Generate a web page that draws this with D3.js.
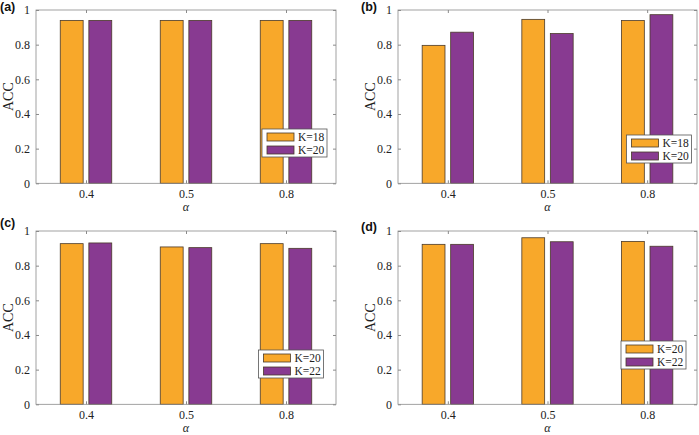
<!DOCTYPE html>
<html>
<head>
<meta charset="utf-8">
<script src="https://cdn.jsdelivr.net/npm/d3@7"></script>
<style>
  html, body { margin: 0; padding: 0; background: #fff; }
  svg { display: block; }
</style>
</head>
<body>
<svg id="chart" width="699" height="435"></svg>
<script>
// ---- data ----
const categories = ["0.4", "0.5", "0.8"];
const yTicks = [0, 0.2, 0.4, 0.6, 0.8, 1];
const yTickLabels = ["0", "0.2", "0.4", "0.6", "0.8", "1"];
const panelLabels = ["(a)", "(b)", "(c)", "(d)"];
const legendAB = ["K=18", "K=20"];
const legendCD = ["K=20", "K=22"];
const a_first = [0.94, 0.94, 0.94];
const a_second = [0.94, 0.94, 0.94];
const b_first = [0.796, 0.946, 0.939];
const b_second = [0.872, 0.864, 0.973];
const c_first = [0.927, 0.908, 0.927];
const c_second = [0.931, 0.904, 0.900];
const d_first = [0.923, 0.961, 0.940];
const d_second = [0.923, 0.938, 0.912];
const xLabel = "α";
const yLabel = "ACC";

// ---- style / layout ----
const orange = "#F8A82A";
const purple = "#883A91";
const edge = "#4a3a2a";
const axisColor = "#8a8a8a";
const serif = "'Liberation Serif','Times New Roman',serif";

const panels = [
  { label: panelLabels[0], s1: a_first, s2: a_second, legend: legendAB,
    left: 36, right: 336, top: 10, bottom: 183.3, lx: 0, ly: 11, legX: 262, legY: 129 },
  { label: panelLabels[1], s1: b_first, s2: b_second, legend: legendAB,
    left: 398, right: 697, top: 10, bottom: 183.3, lx: 361, ly: 11, legX: 626.5, legY: 135 },
  { label: panelLabels[2], s1: c_first, s2: c_second, legend: legendCD,
    left: 36, right: 336, top: 231, bottom: 404.3, lx: 0, ly: 227, legX: 258.5, legY: 350 },
  { label: panelLabels[3], s1: d_first, s2: d_second, legend: legendCD,
    left: 398, right: 697, top: 231, bottom: 404.3, lx: 361, ly: 231, legX: 621, legY: 341 }
];

const svg = d3.select("#chart");

panels.forEach(p => {
  const g = svg.append("g");
  const x = d3.scaleLinear().domain([0.5, categories.length + 0.5]).range([p.left, p.right]);
  const y = d3.scaleLinear().domain([0, 1]).range([p.bottom, p.top]);
  const offset = 0.143, bw = 0.229;
  const unit = x(1) - x(0);

  const series = [{ vals: p.s1, color: orange, off: -offset }, { vals: p.s2, color: purple, off: offset }];

  series.forEach(s => {
    g.selectAll(null).data(s.vals).enter().append("rect")
      .attr("x", (d, i) => x(i + 1 + s.off - bw / 2))
      .attr("width", bw * unit)
      .attr("y", d => y(d))
      .attr("height", d => y(0) - y(d))
      .attr("fill", s.color)
      .attr("stroke", edge)
      .attr("stroke-width", 0.8);
  });

  // box
  g.append("rect")
    .attr("x", p.left).attr("y", p.top)
    .attr("width", p.right - p.left).attr("height", p.bottom - p.top)
    .attr("fill", "none").attr("stroke", axisColor).attr("stroke-width", 0.8);

  // bottom axis
  const xAxis = d3.axisBottom(x).tickValues(categories.map((c, i) => i + 1))
    .tickFormat((d, i) => categories[i]).tickSize(-3).tickPadding(6.5);
  const gx = g.append("g").attr("transform", `translate(0,${p.bottom})`).call(xAxis);
  gx.attr("font-family", serif).attr("font-size", 12);
  gx.select(".domain").remove();
  gx.selectAll(".tick line").attr("stroke", axisColor);
  gx.selectAll("text").attr("fill", "#222");

  // top ticks
  const xTop = d3.axisTop(x).tickValues(categories.map((c, i) => i + 1)).tickFormat("").tickSize(-3);
  const gxt = g.append("g").attr("transform", `translate(0,${p.top})`).call(xTop);
  gxt.select(".domain").remove();
  gxt.selectAll(".tick line").attr("stroke", axisColor);

  // left axis
  const yAxis = d3.axisLeft(y).tickValues(yTicks).tickFormat((d, i) => yTickLabels[i]).tickSize(-3).tickPadding(6);
  const gy = g.append("g").attr("transform", `translate(${p.left},0)`).call(yAxis);
  gy.attr("font-family", serif).attr("font-size", 12);
  gy.select(".domain").remove();
  gy.selectAll(".tick line").attr("stroke", axisColor);
  gy.selectAll("text").attr("fill", "#222");

  // right ticks
  const yRight = d3.axisRight(y).tickValues(yTicks).tickFormat("").tickSize(-3);
  const gyr = g.append("g").attr("transform", `translate(${p.right},0)`).call(yRight);
  gyr.select(".domain").remove();
  gyr.selectAll(".tick line").attr("stroke", axisColor);

  // axis labels
  g.append("text")
    .attr("x", (p.left + p.right) / 2).attr("y", p.bottom + 28)
    .attr("text-anchor", "middle").attr("font-family", serif).attr("font-style", "italic")
    .attr("font-size", "12px").attr("fill", "#222").text(xLabel);
  g.append("text")
    .attr("transform", `translate(${p.left - 23},${(p.top + p.bottom) / 2}) rotate(-90)`)
    .attr("text-anchor", "middle").attr("font-family", serif)
    .attr("font-size", "14px").attr("fill", "#222").text(yLabel);

  // panel label
  g.append("text")
    .attr("x", p.lx).attr("y", p.ly)
    .attr("font-family", "'Liberation Sans',Arial,sans-serif").attr("font-weight", "bold")
    .attr("font-size", "12.5px").attr("fill", "#111").text(p.label);

  // legend
  const lg = g.append("g").attr("transform", `translate(${p.legX},${p.legY})`);
  lg.append("rect").attr("x", 0).attr("y", 0).attr("width", 65).attr("height", 28)
    .attr("fill", "#fff").attr("stroke", "#555").attr("stroke-width", 0.8);
  [orange, purple].forEach((c, i) => {
    lg.append("rect").attr("x", 5).attr("y", 4 + i * 13).attr("width", 27).attr("height", 8)
      .attr("fill", c).attr("stroke", edge).attr("stroke-width", 0.8);
    lg.append("text").attr("x", 36).attr("y", 12 + i * 13)
      .attr("font-family", serif).attr("font-size", "11.5px").attr("fill", "#222")
      .text(p.legend[i]);
  });
});
</script>
</body>
</html>
